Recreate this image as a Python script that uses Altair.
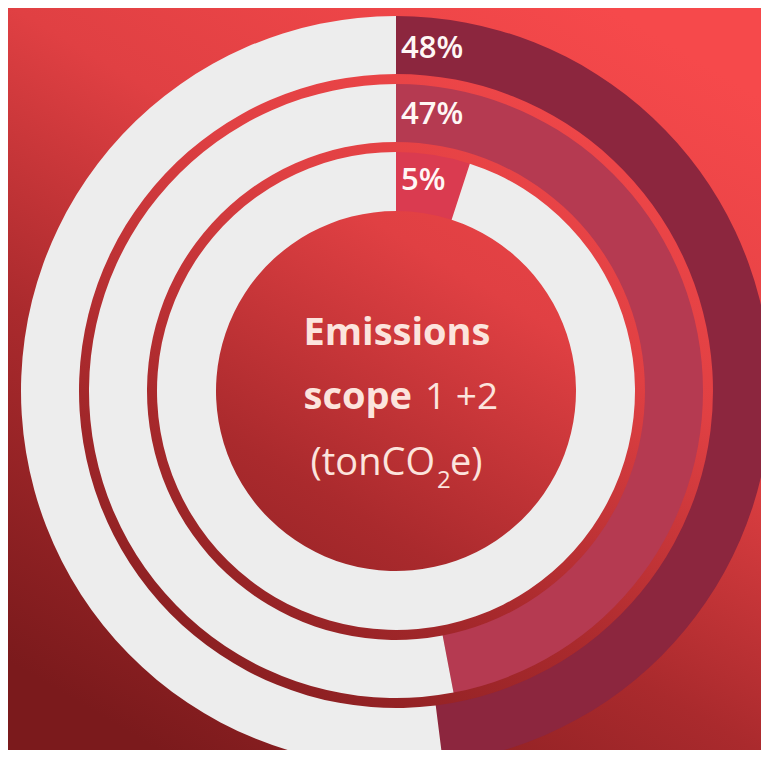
import altair as alt
import pandas as pd

# ---- data ----
rings = ["Scope A", "Scope B", "Scope C"]          # outer -> inner
shares = [48, 47, 5]
ring_colors = ["#8C263E", "#B53A51", "#DA3B50"]
rest_color = "#EDEDED"
pct_labels = ["48%", "47%", "5%"]

W, H = 753, 742
CX, CY = 388, 383
radii = [(317, 375), (249, 307), (180, 239)]
label_y = [50, 116, 182]

layers = []

# background gradient
bg = alt.Chart(pd.DataFrame({"k": [0]})).mark_rect(
    color=alt.LinearGradient(
        gradient="linear",
        stops=[
            alt.GradientStop(color="#F6494B", offset=0),
            alt.GradientStop(color="#E04043", offset=0.35),
            alt.GradientStop(color="#AA2A2D", offset=0.65),
            alt.GradientStop(color="#7B1A1C", offset=1),
        ],
        x1=0.8, y1=0, x2=0.2, y2=1,
    )
).encode(x=alt.value(0), x2=alt.value(W), y=alt.value(0), y2=alt.value(H))
layers.append(bg)

for i, (name, share, col) in enumerate(zip(rings, shares, ring_colors)):
    df = pd.DataFrame({
        "ring": [name, name],
        "part": ["share", "rest"],
        "value": [share, 100 - share],
        "order": [0, 1],
        "color": [col, rest_color],
    })
    r2, r = radii[i]
    arc = alt.Chart(df).mark_arc(radius=r, radius2=r2).encode(
        theta=alt.Theta("value:Q", stack=True, scale=alt.Scale(domain=[0, 100])),
        order=alt.Order("order:O"),
        color=alt.Color("color:N", scale=None),
        x=alt.value(CX),
        y=alt.value(CY),
    )
    layers.append(arc)
    lab = alt.Chart(pd.DataFrame({"label": [pct_labels[i]]})).mark_text(
        align="left", baseline="alphabetic", font="Open Sans", fontSize=31,
        fontWeight=600, color="#FFF7F5"
    ).encode(text="label:N", x=alt.value(393), y=alt.value(label_y[i]))
    layers.append(lab)

center_parts = [
    ("Emissions", 389, 337, "center", "bold", 38),
    ("scope", 404, 401, "right", "bold", 38),
    ("1 +2", 417, 401, "left", "normal", 37),
    ("(tonCO", 427, 467, "right", "normal", 38),
    ("2", 429, 480, "left", "normal", 24),
    ("e)", 442, 467, "left", "normal", 38),
]
for txt, x, y, al, fw, fs in center_parts:
    t = alt.Chart(pd.DataFrame({"t": [txt]})).mark_text(
        align=al, baseline="alphabetic", font="Open Sans", fontSize=fs,
        fontWeight=fw, color="#FCE4DD"
    ).encode(text="t:N", x=alt.value(x), y=alt.value(y))
    layers.append(t)

chart = alt.layer(*layers).properties(
    width=W, height=H, padding=0,
    autosize=alt.AutoSizeParams(type="none"),
    background="#C83538",
).configure_view(strokeWidth=0)

chart.save("out.html", embed_options={"renderer": "svg", "actions": False})
